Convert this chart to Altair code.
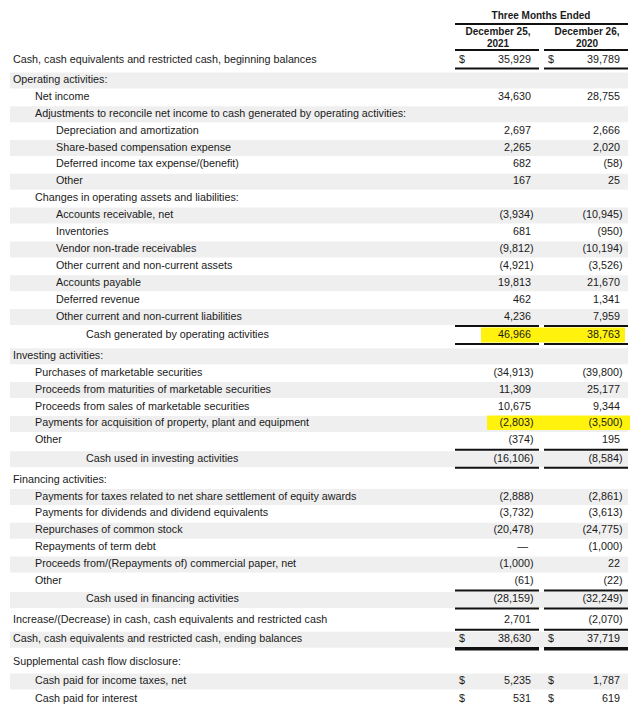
import altair as alt
import pandas as pd
import math

# ---------------- data ----------------
labels = [
    "Cash, cash equivalents and restricted cash, beginning balances",
    "Operating activities:",
    "Net income",
    "Adjustments to reconcile net income to cash generated by operating activities:",
    "Depreciation and amortization",
    "Share-based compensation expense",
    "Deferred income tax expense/(benefit)",
    "Other",
    "Changes in operating assets and liabilities:",
    "Accounts receivable, net",
    "Inventories",
    "Vendor non-trade receivables",
    "Other current and non-current assets",
    "Accounts payable",
    "Deferred revenue",
    "Other current and non-current liabilities",
    "Cash generated by operating activities",
    "Investing activities:",
    "Purchases of marketable securities",
    "Proceeds from maturities of marketable securities",
    "Proceeds from sales of marketable securities",
    "Payments for acquisition of property, plant and equipment",
    "Other",
    "Cash used in investing activities",
    "Financing activities:",
    "Payments for taxes related to net share settlement of equity awards",
    "Payments for dividends and dividend equivalents",
    "Repurchases of common stock",
    "Repayments of term debt",
    "Proceeds from/(Repayments of) commercial paper, net",
    "Other",
    "Cash used in financing activities",
    "Increase/(Decrease) in cash, cash equivalents and restricted cash",
    "Cash, cash equivalents and restricted cash, ending balances",
    "Supplemental cash flow disclosure:",
    "Cash paid for income taxes, net",
    "Cash paid for interest",
]
levels = [0, 0, 1, 1, 2, 2, 2, 2, 1, 2, 2, 2, 2, 2, 2, 2, 3,
          0, 1, 1, 1, 1, 1, 3,
          0, 1, 1, 1, 1, 1, 1, 3,
          0, 0, 0, 1, 1]
kinds = ["bal", "sec", "item", "sec", "item", "item", "item", "item", "sec",
         "item", "item", "item", "item", "item", "item", "item", "total",
         "sec", "item", "item", "item", "item", "item", "total",
         "sec", "item", "item", "item", "item", "item", "item", "total",
         "item", "endbal", "sec", "item", "item"]
NA = None
DASH = float("nan")
v2021 = [35929, NA, 34630, NA, 2697, 2265, 682, 167, NA,
         -3934, 681, -9812, -4921, 19813, 462, 4236, 46966,
         NA, -34913, 11309, 10675, -2803, -374, -16106,
         NA, -2888, -3732, -20478, DASH, -1000, -61, -28159,
         2701, 38630, NA, 5235, 531]
v2020 = [39789, NA, 28755, NA, 2666, 2020, -58, 25, NA,
         -10945, -950, -10194, -3526, 21670, 1341, 7959, 38763,
         NA, -39800, 25177, 9344, -3500, 195, -8584,
         NA, -2861, -3613, -24775, -1000, 22, -22, -32249,
         -2070, 37719, NA, 1787, 619]
dollar_rows = [0, 33, 35, 36]
highlight_rows = [16, 21]
header_top = "Three Months Ended"
col_heads = [["December 25,", "2021"], ["December 26,", "2020"]]

# ---------------- layout ----------------
STEP = 16.9
ys = []
y = 60.0
for i, k in enumerate(kinds):
    if i > 0:
        prev = kinds[i - 1]
        g = STEP
        if prev == "bal":
            g += 3
        elif prev == "endbal":
            g += 6
        elif prev == "total":
            g += 4
        elif prev == "sec" and i > 30:
            g += 2
        if k == "total":
            g += 1.5
        elif k == "endbal":
            g += 2
        if i == 36:
            g += 1
        y += g
    ys.append(y)

indent_x = {0: 13, 1: 35, 2: 56, 3: 86}
COL1 = (455, 539)
COL2 = (544, 628)


def fmt(v):
    if v is None:
        return None
    if isinstance(v, float) and math.isnan(v):
        return "\u2014"
    if v < 0:
        return "({:,})".format(-v)
    return "{:,}".format(v)


label_rows, value_rows, band_rows, hl_rows, rule_rows = [], [], [], [], []
for i, lab in enumerate(labels):
    label_rows.append({"x": indent_x[levels[i]], "y": ys[i], "t": lab})
    if i % 2 == 1:
        band_rows.append({"x": 10, "x2": 628, "y": ys[i] - 7.5, "y2": ys[i] + 8.5})
    for col, vals in ((COL1, v2021), (COL2, v2020)):
        s = fmt(vals[i])
        if s is None:
            continue
        right = col[1] - 8
        if s.startswith("("):
            right += 2.5
        elif s == "\u2014":
            right -= 3
        value_rows.append({"x": right, "y": ys[i], "t": s})
        if i in dollar_rows:
            value_rows.append({"x": col[0] + 10, "y": ys[i], "t": "$"})
    k = kinds[i]
    for col in (COL1, COL2):
        if i == 0:
            rule_rows.append({"x": col[0], "x2": col[1], "y": ys[i] + 8.5, "w": 2})
        if k == "total":
            rule_rows.append({"x": col[0], "x2": col[1], "y": ys[i] - 9, "w": 2})
            rule_rows.append({"x": col[0], "x2": col[1], "y": ys[i] + 9, "w": 2})
        if k == "endbal":
            rule_rows.append({"x": col[0], "x2": col[1], "y": ys[i] - 9.5, "w": 2})
            rule_rows.append({"x": col[0], "x2": col[1], "y": ys[i] + 9.5, "w": 3.5})

# header rules
rule_rows.append({"x": COL1[0], "x2": COL2[1], "y": 24, "w": 2})
for col in (COL1, COL2):
    rule_rows.append({"x": col[0], "x2": col[1], "y": 50, "w": 2})

# highlights (marker strokes)
hl_rows.append({"x": 481, "x2": 625, "y": ys[16] - 7.5, "y2": ys[16] + 7.5})
hl_rows.append({"x": 487, "x2": 630, "y": ys[21] - 8, "y2": ys[21] + 6.5})

head_rows = [{"x": 541, "y": 16, "t": header_top}]
for col, (a, b) in zip((COL1, COL2), col_heads):
    cx = (col[0] + col[1]) / 2 + 1
    head_rows.append({"x": cx, "y": 32, "t": a})
    head_rows.append({"x": cx, "y": 43.5, "t": b})

# ---------------- chart ----------------
xs = alt.Scale(domain=[8, 632], nice=False, zero=False)
ysc = alt.Scale(domain=[8, 709], nice=False, zero=False, reverse=True)
X = lambda f="x": alt.X(f + ":Q", scale=xs, axis=None)
Y = lambda f="y": alt.Y(f + ":Q", scale=ysc, axis=None)
FONT = "Liberation Sans"
INK = "#1a1a1a"
FS = 10.75

bands = alt.Chart(pd.DataFrame(band_rows)).mark_rect(color="#efefef").encode(
    x=X(), x2="x2:Q", y=Y(), y2="y2:Q")
hls = alt.Chart(pd.DataFrame(hl_rows)).mark_rect(color="#fff200", opacity=0.95).encode(
    x=X(), x2="x2:Q", y=Y(), y2="y2:Q")
lab_text = alt.Chart(pd.DataFrame(label_rows)).mark_text(
    align="left", baseline="middle", font=FONT, fontSize=FS, color=INK).encode(
    x=X(), y=Y(), text="t:N")
val_text = alt.Chart(pd.DataFrame(value_rows)).mark_text(
    align="right", baseline="middle", font=FONT, fontSize=FS, color=INK).encode(
    x=X(), y=Y(), text="t:N")
head_text = alt.Chart(pd.DataFrame(head_rows)).mark_text(
    align="center", baseline="middle", font=FONT, fontSize=10, fontWeight="bold",
    color=INK).encode(x=X(), y=Y(), text="t:N")
rules = alt.Chart(pd.DataFrame(rule_rows)).mark_rule(color="#111111").encode(
    x=X(), x2="x2:Q", y=Y(), strokeWidth=alt.StrokeWidth("w:Q", scale=None, legend=None))

chart = alt.layer(bands, hls, lab_text, val_text, head_text, rules).properties(
    width=624, height=701, padding=0, autosize=alt.AutoSizeParams(type="none")
).configure_view(stroke=None)

chart.save("out.html", embed_options={"renderer": "svg", "actions": False})
